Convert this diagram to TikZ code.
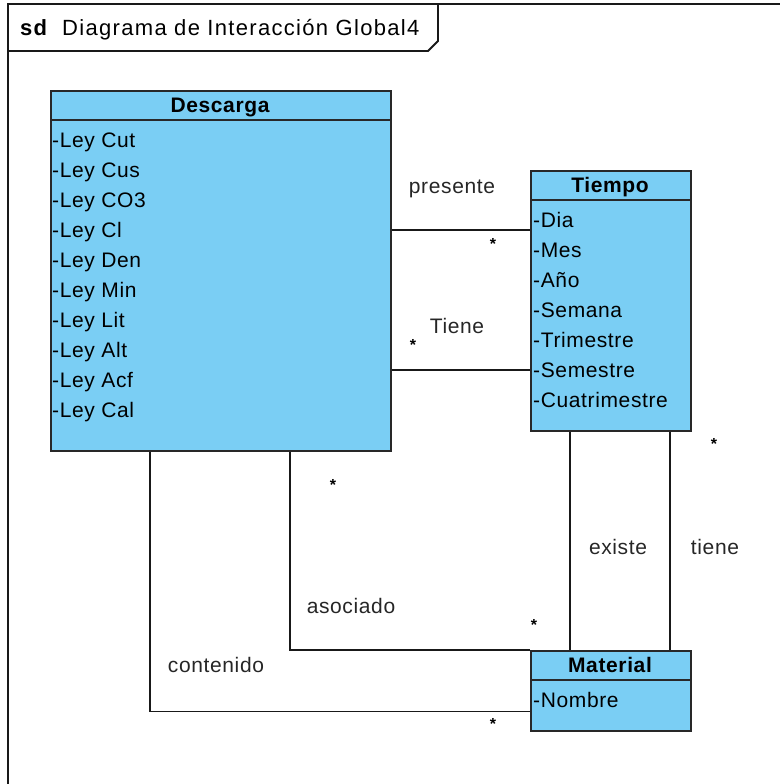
\documentclass[tikz,border=0pt]{standalone}
\usepackage{fontspec}
\setmainfont{Liberation Sans}
\newfontfamily\uifont[LetterSpace=3]{Liberation Sans}
\newfontfamily\titlefont[LetterSpace=6]{Liberation Sans}
\definecolor{clsfill}{RGB}{122,206,244}
\definecolor{clsline}{RGB}{40,40,40}
\tikzset{
  cls/.style={draw=clsline, line width=1.6pt, fill=clsfill, anchor=north west, inner sep=0pt},
  attr/.style={anchor=base west, inner sep=0pt, font=\uifont\fontsize{21}{24}\selectfont},
  cname/.style={anchor=base, inner sep=0pt, font=\uifont\fontsize{21}{24}\selectfont\bfseries},
  lbl/.style={anchor=base, inner sep=0pt, font=\uifont\fontsize{21}{24}\selectfont, text=black!85},
  mult/.style={anchor=base, inner sep=0pt, font=\fontsize{16}{18}\selectfont\bfseries},
  conn/.style={line width=1.4pt, draw=black!90},
  frameline/.style={line width=1.8pt, draw=black!90}
}
\begin{document}
\begin{tikzpicture}[x=1pt,y=-1pt]
\useasboundingbox (0,0) rectangle (780,784);

% sequence diagram frame and title tab
\draw[frameline] (8,784) -- (8,4) -- (780,4);
\draw[frameline] (8,51) -- (428,51) -- (438,41) -- (438,4);
\node[anchor=base west, inner sep=0pt, font=\titlefont\fontsize{22}{24}\selectfont\bfseries] (sd) at (20,36) {sd};
\node[anchor=base west, inner sep=0pt, font=\titlefont\fontsize{22}{24}\selectfont] (title) at (62,36) {Diagrama de Interacción Global4};

% class Descarga
\node[cls, minimum width=340pt, minimum height=360pt] (desc) at (50,90) {};
\draw[clsline, line width=1.4pt] ([yshift=-30pt]desc.north west) -- ([yshift=-30pt]desc.north east);
\node[cname] (descn) at (220,112.5) {Descarga};
\foreach \t [count=\i from 0] in {Cut,Cus,CO3,Cl,Den,Min,Lit,Alt,Acf,Cal}
  \node[attr] (da\i) at (52,147.5+30*\i) {-Ley \t};

% class Tiempo
\node[cls, minimum width=160pt, minimum height=260pt] (tiem) at (530,170) {};
\draw[clsline, line width=1.4pt] ([yshift=-30pt]tiem.north west) -- ([yshift=-30pt]tiem.north east);
\node[cname] (tiemn) at (610,192.5) {Tiempo};
\foreach \t [count=\i from 0] in {Dia,Mes,Año,Semana,Trimestre,Semestre,Cuatrimestre}
  \node[attr] (ta\i) at (533,227.5+30*\i) {-\t};

% class Material
\node[cls, minimum width=160pt, minimum height=80pt] (matl) at (530,650) {};
\draw[clsline, line width=1.4pt] ([yshift=-30pt]matl.north west) -- ([yshift=-30pt]matl.north east);
\node[cname] (matln) at (610,672.5) {Material};
\node[attr] (ma0) at (533,707.5) {-Nombre};

% associations
\draw[conn] ([yshift=-140pt]desc.north east) -- ([yshift=-140pt]desc.north east -| tiem.west);
\draw[conn] ([yshift=-280pt]desc.north east) -- ([yshift=-280pt]desc.north east -| tiem.west);
\draw[conn] ([xshift=40pt]tiem.south west) -- ([xshift=40pt]matl.north west);
\draw[conn] ([xshift=140pt]tiem.south west) -- ([xshift=140pt]matl.north west);
\draw[conn] ([xshift=240pt]desc.south west) |- (matl.north west);
\draw[conn] ([xshift=100pt]desc.south west) |- ([yshift=20pt]matl.south west);

% association names
\node[lbl] (lpres) at (452,193.5) {presente};
\node[lbl] (ltiene1) at (457,333.5) {Tiene};
\node[lbl] (lexis) at (618,554.5) {existe};
\node[lbl] (ltiene2) at (715,554.5) {tiene};
\node[lbl] (lasoc) at (351,613.5) {asociado};
\node[lbl] (lcont) at (216,672.5) {contenido};

% multiplicities
\node[mult] (m1) at (493,249) {*};
\node[mult] (m2) at (413,350) {*};
\node[mult] (m3) at (714,449) {*};
\node[mult] (m4) at (333,490) {*};
\node[mult] (m5) at (534,630) {*};
\node[mult] (m6) at (493,729) {*};
\end{tikzpicture}
\end{document}
